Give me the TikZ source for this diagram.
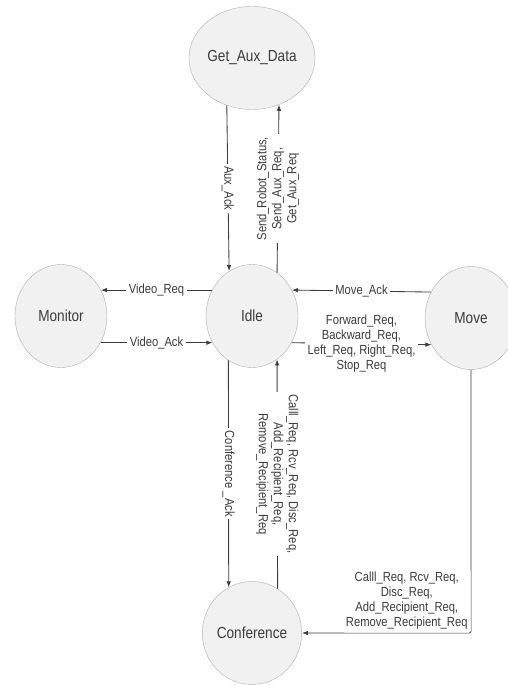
\documentclass[tikz,border=0pt]{standalone}
\usepackage{fontspec}
\setmainfont{Liberation Sans}[FakeStretch=0.85]
\usetikzlibrary{arrows.meta,shapes.geometric}
\definecolor{stfill}{HTML}{F1F1F1}
\definecolor{stline}{HTML}{AEAEAE}
\definecolor{txt}{HTML}{3C3C3C}
\tikzset{font=\fontsize{13.2}{15}\selectfont}
\tikzset{state/.style={ellipse, draw=stline, fill=stfill, minimum width=92pt,
    minimum height=103pt, inner sep=0pt, text=txt, font=\fontsize{16}{18}\selectfont}}
\tikzset{msg/.style={draw=txt, line width=0.85pt, -{Latex[length=6pt,width=4.5pt]}}}
\tikzset{lbl/.style={fill=white, text=txt, inner sep=2.5pt, align=center}}

\begin{document}
\begin{tikzpicture}[x=1pt,y=-1pt]
  \useasboundingbox (0,0) rectangle (508,685);

  % states
  \node[state] (get)     at (252,58)  {Get\_Aux\_Data};
  \node[state] (monitor) at (61,316)  {Monitor};
  \node[state] (idle)    at (252,316) {Idle};
  \node[state] (move)    at (471,318) {Move};
  \node[state] (conf)    at (252,633) {Conference};

  % Idle <-> Get_Aux_Data
  \draw[msg] (get.242.5) -- node[lbl, rotate=-90] {Aux\_Ack} (idle.117.5);
  \draw[msg] (idle.60) -- node[lbl, rotate=90]
    {Send\_Robot\_Status,\\ Send\_Aux\_Req,\\ Get\_Aux\_Req} (get.-60);

  % Idle <-> Monitor
  \draw[msg] (idle.147) -- node[lbl] {Video\_Req} (monitor.33);
  \draw[msg] (monitor.-34) -- node[lbl] {Video\_Ack} (idle.214);

  % Idle <-> Move
  \draw[msg] (move.147) -- node[lbl] {Move\_Ack} (idle.33);
  \draw[msg] (idle.-34) -- node[lbl]
    {Forward\_Req,\\ Backward\_Req,\\ Left\_Req, Right\_Req,\\ Stop\_Req} (move.214);

  % Idle <-> Conference
  \draw[msg] (idle.242.5) -- node[lbl, rotate=-90] {Conference \_Ack} (conf.117.5);
  \draw[msg] (conf.60) -- node[lbl, rotate=-90]
    {Calll\_Req, Rcv\_Req, Disc\_Req,\\ Add\_Recipient\_Req,\\ Remove\_Recipient\_Req} (idle.-60);

  % Move -> Conference
  \draw[msg, rounded corners=2pt] (move.south) |- node[pos=0.5, above left, lbl, inner sep=3pt]
    {Calll\_Req, Rcv\_Req,\\ Disc\_Req,\\ Add\_Recipient\_Req,\\ Remove\_Recipient\_Req} (conf.east);
\end{tikzpicture}
\end{document}
